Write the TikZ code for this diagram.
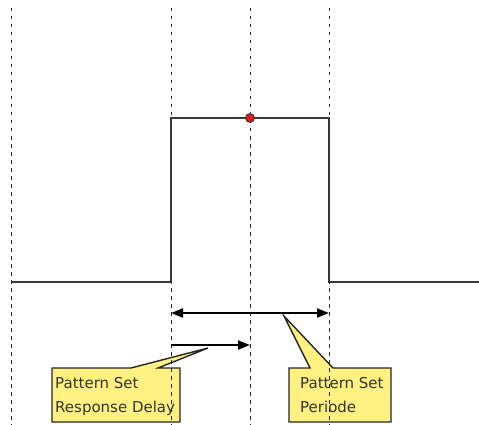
\documentclass[tikz,border=0pt]{standalone}
\usepackage{fontspec}
\newfontfamily\calloutfont{DejaVu Sans}
\usetikzlibrary{arrows.meta}
\definecolor{callyellow}{RGB}{255,240,130}
\definecolor{pulsegray}{RGB}{55,55,55}
\definecolor{dotred}{RGB}{225,25,25}
\tikzset{
  guide/.style={draw=black!85, line width=1pt, dash pattern=on 3.5pt off 4.5pt},
  pulse/.style={draw=pulsegray, line width=1.2pt},
  measure/.style={draw=black, line width=2.2pt, -{Triangle[length=12pt,width=9pt]}},
  dmeasure/.style={draw=black, line width=2.2pt, {Triangle[length=12pt,width=9pt]}-{Triangle[length=12pt,width=9pt]}},
  callout/.style={draw=black!85, fill=callyellow, line width=1.4pt, line join=miter},
  callouttext/.style={anchor=north west, inner sep=0pt, align=left, text=black!80,
    font=\calloutfont\fontsize{15}{24}\selectfont},
}
\begin{document}
\begin{tikzpicture}[x=1pt,y=-1pt]
\useasboundingbox (0,0) rectangle (479,425);
% callouts
\draw[callout] (52,368) -- (131,368) -- (208,348) -- (158,368) -- (180,368) -- (180,422) -- (52,422) -- cycle;
\node[callouttext] (delaytxt) at (55,377) {Pattern Set\\Response Delay};
\draw[callout] (289,368) -- (310,368) -- (284,316) -- (333,368) -- (391,368) -- (391,422) -- (289,422) -- cycle;
\node[callouttext] (periodtxt) at (300,377) {Pattern Set\\Periode};
% guides
\coordinate (g1t) at (11,8);   \coordinate (g1b) at (11,425);
\coordinate (g2t) at (171,8);  \coordinate (g2b) at (171,425);
\coordinate (g3t) at (250,8);  \coordinate (g3b) at (250,425);
\coordinate (g4t) at (329,8);  \coordinate (g4b) at (329,425);
\draw[guide] (g1t) -- (g1b);
\draw[guide] (g2t) -- (g2b);
\draw[guide] (g3t) -- (g3b);
\draw[guide] (g4t) -- (g4b);
% pulse
\coordinate (p0) at (11,282);
\coordinate (p1) at (171,282);
\coordinate (p2) at (171,118);
\coordinate (p3) at (329,118);
\coordinate (p4) at (329,282);
\coordinate (p5) at (479,282);
\draw[pulse] (p0) -- (p1) -- (p2) -- (p3) -- (p4) -- (p5);
% red dot
\node[circle, fill=dotred, draw=black!80, line width=0.8pt, minimum size=9pt, inner sep=0pt] (dot) at (250,118) {};
% measures
\coordinate (m1a) at (171,313);
\coordinate (m1b) at (329,313);
\draw[dmeasure] (m1a) -- (m1b);
\coordinate (m2a) at (171,345);
\coordinate (m2b) at (250,345);
\draw[measure] (m2a) -- (m2b);
\end{tikzpicture}
\end{document}
